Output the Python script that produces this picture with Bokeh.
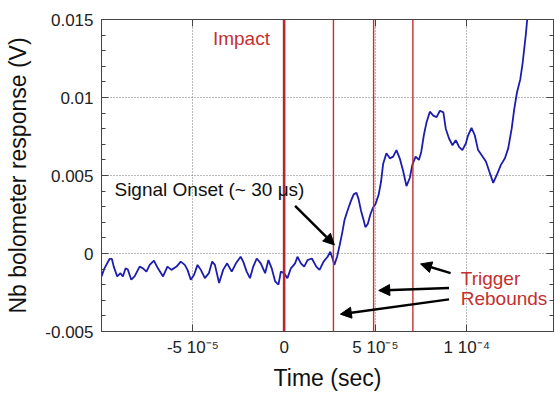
from bokeh.plotting import figure
from bokeh.models import (Range1d, FixedTicker, LinearAxis, Span, Arrow, NormalHead,
                          Label, CustomJSTickFormatter, ColumnDataSource)
from bokeh.embed import file_html
from bokeh.resources import INLINE

# Bolometer trace: time in microseconds, response in millivolts
time_us = [
    -100.0, -98.4, -95.6, -94.3, -93.3, -91.4, -89.6, -88.3, -86.8, -85.6,
    -83.7, -81.9, -79.1, -77.3, -75.4, -73.6, -71.3, -69.1, -66.3, -63.9,
    -61.7, -58.9, -56.6, -54.4, -52.9, -51.1, -49.3, -47.4, -45.6, -43.4,
    -41.2, -39.4, -37.9, -35.6, -33.4, -31.2, -28.7, -26.4, -23.8, -22.4,
    -20.5, -18.7, -16.9, -15.0, -12.8, -10.4, -8.6, -6.8, -4.9, -3.1,
    -1.8, 0.0, 1.8, 3.7, 6.0, 7.3, 9.2, 11.0, 12.8, 15.2,
    17.6, 19.4, 21.6, 23.8, 25.3, 26.8, 27.5, 29.0, 30.4, 31.7,
    33.0, 34.1, 35.3, 36.6, 38.1, 39.6, 40.8, 42.1, 43.6, 44.5,
    45.8, 47.3, 48.7, 50.0, 51.8, 53.1, 54.2, 56.0, 57.9, 59.7,
    61.5, 63.3, 65.2, 67.0, 68.8, 70.2, 72.0, 73.8, 75.1, 76.5,
    78.0, 79.8, 81.7, 83.5, 85.3, 87.2, 88.5, 90.3, 92.2, 94.0,
    95.8, 97.6, 99.5, 100.7, 102.6, 104.4, 106.2, 108.1, 110.5, 112.3,
    114.5, 116.5, 118.7, 120.9, 122.7, 124.6, 126.0, 127.5, 129.3, 130.6,
    132.4, 133.3, 134.0,
]
signal_mv = [
    -1.47, -0.95, -0.35, -0.35, -0.84, -1.47, -1.26, -1.47, -0.95, -1.03,
    -1.68, -1.47, -0.84, -0.95, -1.16, -0.73, -0.46, -0.95, -1.47, -0.84,
    -1.05, -0.84, -0.52, -0.73, -1.05, -1.68, -1.36, -0.73, -1.05, -1.58,
    -1.26, -0.52, -0.73, -1.89, -1.05, -0.63, -1.16, -0.63, -0.21, -0.52,
    -1.16, -1.58, -0.84, -0.32, -0.63, -1.26, -0.42, -0.95, -1.79, -2.00,
    -1.16, -1.26, -1.58, -0.95, -0.63, -0.21, -0.63, -0.84, -0.42, -0.32,
    -0.84, -1.05, -0.52, -0.21, 0.11, -0.42, -0.73, -0.21, 0.53, 1.26,
    2.11, 2.53, 2.95, 3.37, 3.79, 3.90, 3.47, 2.74, 2.11, 1.69,
    1.89, 2.53, 2.95, 3.16, 3.79, 4.63, 5.73, 6.42, 6.10, 6.21,
    6.63, 6.10, 5.27, 4.32, 4.84, 5.68, 6.21, 6.00, 6.53, 7.58,
    8.42, 9.09, 8.84, 8.74, 9.15, 9.05, 8.00, 7.37, 6.94, 7.26,
    6.84, 6.63, 7.05, 7.56, 8.06, 7.58, 6.63, 6.31, 5.90, 5.27,
    4.53, 5.05, 5.68, 6.10, 6.74, 8.00, 9.26, 10.32, 11.16, 12.21,
    14.10, 15.26, 16.2,
]

# Event markers (seconds)
impact_time = 0.0
rebound_times = [2.7e-5, 4.9e-5, 7.05e-5]

# Axis ticks
x_tick_values = [-5e-5, 0.0, 5e-5, 1e-4]
x_tick_labels = ["-5 10\u207b\u2075", "0", "5 10\u207b\u2075", "1 10\u207b\u2074"]
y_tick_values = [-0.005, 0.0, 0.005, 0.01, 0.015]
y_tick_labels = ["-0.005", "0", "0.005", "0.01", "0.015"]
y_minor_ticks = [-0.004, -0.003, -0.002, -0.001, 0.001, 0.002, 0.003, 0.004,
                 0.006, 0.007, 0.008, 0.009, 0.011, 0.012, 0.013, 0.014]

FONT = "Liberation Sans"
AXIS_COLOR = "#444444"
TRACE_COLOR = "#1c1cae"
RED = "#c4302f"

source = ColumnDataSource(data=dict(
    t=[v * 1e-6 for v in time_us],
    v=[v * 1e-3 for v in signal_mv],
))

p = figure(width=555, height=393,
           x_range=Range1d(-1e-4, 1.475e-4), y_range=Range1d(-0.005, 0.015),
           output_backend="svg", toolbar_location=None,
           min_border_left=101, min_border_right=2,
           min_border_top=19, min_border_bottom=57,
           background_fill_color="white", border_fill_color="white",
           outline_line_color=AXIS_COLOR)

lookup_code = """
let best = 0, dist = Infinity;
for (let i = 0; i < vals.length; i++) {
  const d = Math.abs(vals[i] - tick);
  if (d < dist) { dist = d; best = i; }
}
return labels[best];
"""

x_ticker = FixedTicker(ticks=x_tick_values, minor_ticks=[])
y_ticker = FixedTicker(ticks=y_tick_values, minor_ticks=y_minor_ticks)


def style_axis(ax):
    ax.axis_line_color = AXIS_COLOR
    ax.major_tick_line_color = AXIS_COLOR
    ax.minor_tick_line_color = AXIS_COLOR
    ax.major_tick_in = 7
    ax.major_tick_out = 0
    ax.minor_tick_in = 4
    ax.minor_tick_out = 0
    ax.major_label_text_font = FONT
    ax.major_label_text_font_size = "17px"
    ax.major_label_text_color = "#222222"
    ax.axis_label_text_font = FONT
    ax.axis_label_text_font_style = "normal"
    ax.axis_label_text_font_size = "23px"
    ax.axis_label_text_color = "#111111"


xa = p.xaxis[0]
xa.ticker = x_ticker
xa.formatter = CustomJSTickFormatter(args=dict(vals=x_tick_values, labels=x_tick_labels),
                                     code=lookup_code)
xa.axis_label = "Time (sec)"
style_axis(xa)
xa.major_label_standoff = 6
xa.axis_label_standoff = 5

ya = p.yaxis[0]
ya.ticker = y_ticker
ya.formatter = CustomJSTickFormatter(args=dict(vals=y_tick_values, labels=y_tick_labels),
                                     code=lookup_code)
ya.axis_label = "Nb bolometer response (V)"
style_axis(ya)
ya.major_label_standoff = 8
ya.axis_label_standoff = 11

blank = CustomJSTickFormatter(code="return ''")
right_ax = LinearAxis(ticker=y_ticker, formatter=blank)
style_axis(right_ax)
right_ax.major_label_text_font_size = "0px"
right_ax.major_label_standoff = 0
p.add_layout(right_ax, "right")

top_ax = LinearAxis(ticker=x_ticker, formatter=blank)
style_axis(top_ax)
top_ax.major_label_text_font_size = "0px"
top_ax.major_label_standoff = 0
p.add_layout(top_ax, "above")

for g in (p.xgrid[0], p.ygrid[0]):
    g.grid_line_color = "#777777"
    g.grid_line_dash = "1 2"
    g.grid_line_width = 1

p.line("t", "v", source=source, line_color=TRACE_COLOR, line_width=1.8)

p.add_layout(Span(location=impact_time, dimension="height",
                  line_color="#b8262b", line_width=2.6))
for rt in rebound_times:
    p.add_layout(Span(location=rt, dimension="height",
                      line_color=RED, line_width=1.4))

# Annotation arrows: (x_start, y_start, x_end, y_end)
arrow_paths = [
    (6.0e-6, 0.00306, 2.75e-5, 0.00055),
    (9.12e-5, -0.00126, 7.47e-5, -0.00067),
    (9.03e-5, -0.00221, 5.18e-5, -0.00237),
    (9.03e-5, -0.00294, 3.08e-5, -0.00389),
]
for xs, ys, xe, ye in arrow_paths:
    p.add_layout(Arrow(end=NormalHead(size=11, fill_color="black", line_color="black"),
                       x_start=xs, y_start=ys, x_end=xe, y_end=ye,
                       line_color="black", line_width=2.5))

label_style = dict(text_font=FONT, text_font_size="19px",
                   text_baseline="middle", text_align="left")
p.add_layout(Label(x=-3.9e-5, y=0.0138, text="Impact", text_color=RED, **label_style))
p.add_layout(Label(x=-9.29e-5, y=0.0041, text="Signal Onset (~ 30 \u03bcs)",
                   text_color="#111111", **label_style))
p.add_layout(Label(x=9.67e-5, y=-0.00158, text="Trigger", text_color=RED, **label_style))
p.add_layout(Label(x=9.67e-5, y=-0.0029, text="Rebounds", text_color=RED, **label_style))

open("out.html", "w").write(file_html(p, INLINE))
